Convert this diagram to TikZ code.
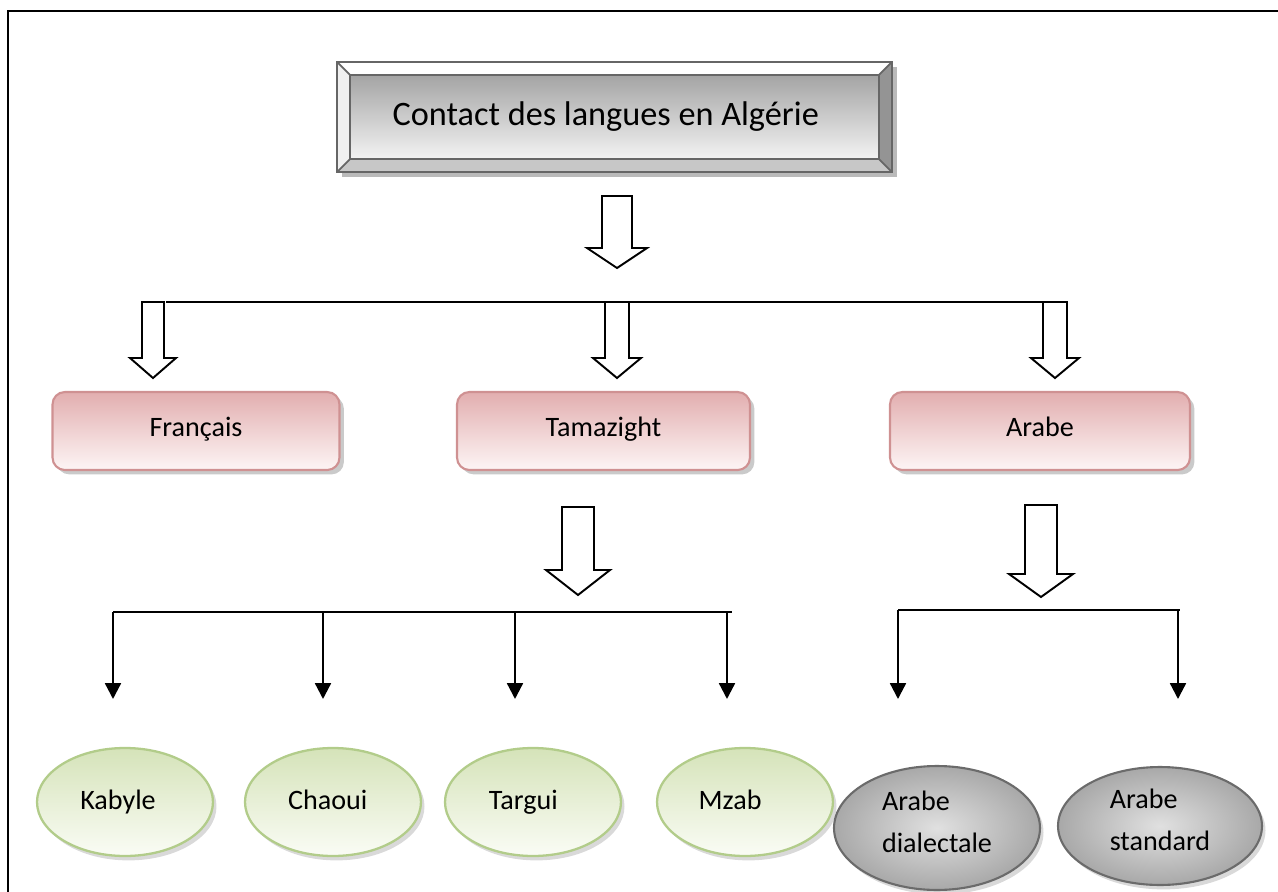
\documentclass[tikz,border=0pt]{standalone}
\usepackage{fontspec}
\setmainfont{Carlito}
\usetikzlibrary{arrows.meta,shadows,shapes.geometric}

\definecolor{pinktop}{HTML}{E2AEAF}
\definecolor{pinkbot}{HTML}{FDF5F5}
\definecolor{pinkline}{HTML}{CF9192}
\definecolor{greentop}{HTML}{D5E3B9}
\definecolor{greenbot}{HTML}{FAFCF5}
\definecolor{greenline}{HTML}{B2CC8A}
\definecolor{titletop}{HTML}{A4A4A4}
\definecolor{titlebot}{HTML}{F3F3F3}

% hollow arrow: top, length, shaft half width, head half width, head length
\newcommand{\hollowdown}[5]{%
  \draw[hollow,shift={(#1)}] (-#3,0) -- (-#3,#2-#5) -- (-#4,#2-#5) -- (0,#2)
    -- (#4,#2-#5) -- (#3,#2-#5) -- (#3,0) -- cycle;}

\begin{document}
\begin{tikzpicture}[
    x=0.02cm, y=-0.02cm,
    hollow/.style={draw, line width=1.1pt, fill=white, line join=miter},
    branch/.style={line width=1.2pt},
    down/.style={line width=1.3pt, -{Triangle[length=9pt,width=9pt]}},
    langbox/.style={rectangle, rounded corners=7pt, draw=pinkline, line width=1.2pt,
        top color=pinktop, bottom color=pinkbot, minimum height=1.56cm,
        font=\fontsize{16}{19}\selectfont, text height=1.55ex, text depth=.3ex,
        drop shadow={shadow xshift=2.5pt, shadow yshift=-2.5pt, opacity=.35, fill=black!60}},
    dialect/.style={ellipse, draw=greenline, line width=1.3pt, inner sep=0pt,
        top color=greentop, bottom color=greenbot, minimum width=3.52cm, minimum height=2.16cm,
        font=\fontsize{16}{19}\selectfont,
        drop shadow={shadow xshift=2pt, shadow yshift=-2.5pt, opacity=.3, fill=black!50}},
    arabic/.style={ellipse, draw=black!58, line width=1.2pt, inner sep=0pt, align=left,
        inner color=black!12, outer color=black!34,
        font=\fontsize{16}{24}\selectfont,
        drop shadow={shadow xshift=2pt, shadow yshift=-2.5pt, opacity=.3, fill=black!50}}
  ]

  \useasboundingbox (0,0) rectangle (1278,892);
  \draw[line width=1.5pt] (8,892) -- (8,11) -- (1278,11);

  % title with bevel
  \node[draw=black!60, line width=1.2pt, fill=black!40, minimum width=11.1cm, minimum height=2.2cm,
    drop shadow={shadow xshift=3pt, shadow yshift=-3pt, opacity=.45, fill=black!60},
    font=\fontsize{19.5}{24}\selectfont,
    path picture={
      \fill[white] (path picture bounding box.north west) -- (path picture bounding box.north east)
        -- ([shift={(-13,13)}]path picture bounding box.north east) -- ([shift={(13,13)}]path picture bounding box.north west) -- cycle;
      \fill[black!6] (path picture bounding box.north west) -- ([shift={(13,13)}]path picture bounding box.north west)
        -- ([shift={(13,-13)}]path picture bounding box.south west) -- (path picture bounding box.south west) -- cycle;
      \fill[black!42] (path picture bounding box.north east) -- ([shift={(-13,13)}]path picture bounding box.north east)
        -- ([shift={(-13,-13)}]path picture bounding box.south east) -- (path picture bounding box.south east) -- cycle;
      \fill[black!22] (path picture bounding box.south west) -- ([shift={(13,-13)}]path picture bounding box.south west)
        -- ([shift={(-13,-13)}]path picture bounding box.south east) -- (path picture bounding box.south east) -- cycle;
      \shade[top color=titletop, bottom color=titlebot] ([shift={(13,13)}]path picture bounding box.north west)
        rectangle ([shift={(-13,-13)}]path picture bounding box.south east);
      \draw[black!60, line width=1.2pt] ([shift={(13,13)}]path picture bounding box.north west)
        rectangle ([shift={(-13,-13)}]path picture bounding box.south east);
      \draw[black!60, line width=1pt] (path picture bounding box.north west) -- ([shift={(13,13)}]path picture bounding box.north west)
        (path picture bounding box.north east) -- ([shift={(-13,13)}]path picture bounding box.north east)
        (path picture bounding box.south west) -- ([shift={(13,-13)}]path picture bounding box.south west)
        (path picture bounding box.south east) -- ([shift={(-13,-13)}]path picture bounding box.south east);
    }] (title) at (614.5,117) {Contact des langues en Algérie\kern10pt};

  % first level
  \coordinate (a0) at (617,196);
  \hollowdown{a0}{72}{15}{30}{20}

  \coordinate (l1w) at (166,302);
  \coordinate (l1e) at (1052,302);
  \draw[branch] (l1w) -- (l1e);

  \coordinate (a1) at (153,302);
  \coordinate (a2) at (617,302);
  \coordinate (a3) at (1055,302);
  \hollowdown{a1}{76}{11}{23}{20}
  \hollowdown{a2}{76}{12}{24}{20}
  \hollowdown{a3}{76}{12}{24}{20}

  \node[langbox, minimum width=5.74cm] (fr) at (196,431) {Français};
  \node[langbox, minimum width=5.86cm] (tam) at (603.5,431) {Tamazight};
  \node[langbox, minimum width=6cm] (ar) at (1040,431) {Arabe};

  % second level
  \coordinate (b1) at (578,507);
  \coordinate (b2) at (1041,505);
  \hollowdown{b1}{88}{16}{32}{25}
  \hollowdown{b2}{92}{16}{32}{23}

  \coordinate (l2w) at (113,612);
  \coordinate (l2e) at (732,612);
  \coordinate (l3w) at (898,610);
  \coordinate (l3e) at (1180,610);
  \draw[branch] (l2w) -- (l2e);
  \draw[branch] (l3w) -- (l3e);

  \foreach \name/\x in {kab/113, cha/323, tar/515, mza/727}
    \draw[down] (\x,612) coordinate (\name top) -- (\x,699) coordinate (\name tip);
  \foreach \name/\x in {dia/898, std/1178}
    \draw[down] (\x,610) coordinate (\name top) -- (\x,699) coordinate (\name tip);

  \node[dialect] (kab) at (125,802) {\raisebox{3pt}{Kabyle\kern8pt}};
  \node[dialect] (cha) at (333,802) {\raisebox{3pt}{Chaoui\kern6pt}};
  \node[dialect] (tar) at (533,802) {\raisebox{3pt}{Targui\kern11pt}};
  \node[dialect] (mza) at (745,802) {\raisebox{3pt}{Mzab\kern17pt}};

  \node[arabic, minimum width=4.12cm, minimum height=2.48cm] (dia) at (937,828) {\raisebox{7pt}{Arabe}\\\raisebox{7pt}{dialectale}};
  \node[arabic, minimum width=4.08cm, minimum height=2.36cm] (std) at (1160,826) {\raisebox{7pt}{Arabe}\\\raisebox{7pt}{standard}};

\end{tikzpicture}
\end{document}
